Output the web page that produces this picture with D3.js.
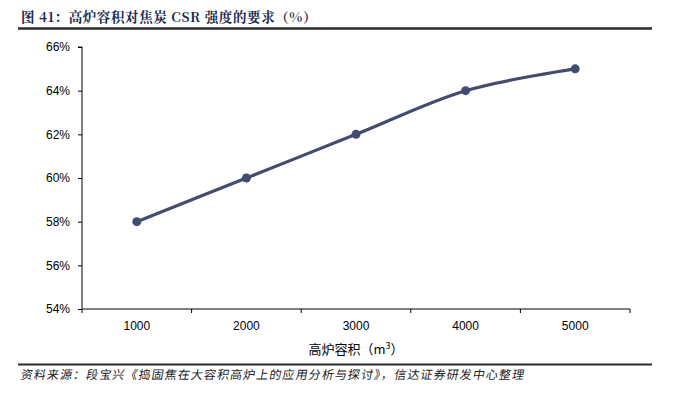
<html>
<head>
<script src="https://cdnjs.cloudflare.com/ajax/libs/d3/7.8.5/d3.min.js"></script>
<style>
  body { margin: 0; background: #fff; }
  .tick text { font-family: "Liberation Sans", Arial, sans-serif; font-size: 12px; fill: #000; }
</style>
</head>
<body>
<script>
var width = 683, height = 399;

var categories = ["1000", "2000", "3000", "4000", "5000"];
var csrValues = [58, 60, 62, 64, 65];
var yTicks = [54, 56, 58, 60, 62, 64, 66];

var titleText = "图 41：高炉容积对焦炭 CSR 强度的要求（%）";
var sourceText = "资料来源：段宝兴《捣固焦在大容积高炉上的应用分析与探讨》，信达证券研发中心整理";

var svg = d3.select("body").append("svg")
    .attr("width", width)
    .attr("height", height);

// title + rules
svg.append("text")
    .attr("x", 21)
    .attr("y", 22)
    .attr("font-family", "'Noto Serif CJK SC', 'Noto Sans CJK SC', serif")
    .attr("font-size", 13.5)
    .attr("font-weight", "bold")
    .attr("letter-spacing", 0.6)
    .attr("fill", "#1d2a4d")
    .text(titleText);

svg.append("line")
    .attr("x1", 18).attr("x2", 652)
    .attr("y1", 28.5).attr("y2", 28.5)
    .attr("stroke", "#2b2b2b").attr("stroke-width", 2.5);

svg.append("line")
    .attr("x1", 18).attr("x2", 652)
    .attr("y1", 364.5).attr("y2", 364.5)
    .attr("stroke", "#2b2b2b").attr("stroke-width", 2);

svg.append("text")
    .attr("x", 21)
    .attr("y", 379)
    .attr("font-family", "'Noto Sans CJK SC', serif")
    .attr("font-size", 12)
    .attr("letter-spacing", 1.1)
    .attr("fill", "#222")
    .attr("transform", "skewX(-10) translate(66,0)")
    .text(sourceText);

// plot
var x = d3.scaleBand()
    .domain(categories)
    .range([82, 630]);

var y = d3.scaleLinear()
    .domain([54, 66])
    .range([309, 47]);

var yAxis = svg.append("g")
    .attr("transform", "translate(82,0)")
    .call(d3.axisLeft(y)
        .tickValues(yTicks)
        .tickSize(4)
        .tickFormat(function(d) { return d + "%"; }));
yAxis.select(".domain").attr("stroke", "#000").attr("d", "M-4," + y(66) + "H0V" + y(54));
yAxis.selectAll(".tick line").attr("stroke", "#000");
yAxis.selectAll(".tick text").attr("x", -12);

var xAxis = svg.append("g")
    .attr("transform", "translate(0,309)")
    .call(d3.axisBottom(x).tickSize(0).tickPadding(12));
xAxis.select(".domain").attr("stroke", "#000").attr("d", "M82,0H630");
xAxis.selectAll(".tick text").attr("dy", "0.71em");

// boundary ticks between categories
var bounds = categories.map(function(c) { return x(c); }).concat([x.range()[1]]);
svg.append("g").selectAll("line")
    .data(bounds)
    .join("line")
    .attr("x1", function(d) { return d; })
    .attr("x2", function(d) { return d; })
    .attr("y1", 309).attr("y2", 313)
    .attr("stroke", "#000");

svg.append("text")
    .attr("x", 356)
    .attr("y", 354)
    .attr("text-anchor", "middle")
    .attr("font-family", "'Noto Sans CJK SC', sans-serif")
    .attr("font-size", 13)
    .attr("fill", "#000")
    .html('高炉容积（m<tspan dy="-5" font-size="9">3</tspan><tspan dy="5">）</tspan>');

var pts = categories.map(function(c, i) {
  return [x(c) + x.bandwidth() / 2, y(csrValues[i])];
});

svg.append("path")
    .datum(pts)
    .attr("fill", "none")
    .attr("stroke", "#434c70")
    .attr("stroke-width", 3.2)
    .attr("d", d3.line().curve(d3.curveCatmullRom.alpha(0.5)));

svg.append("g").selectAll("circle")
    .data(pts)
    .join("circle")
    .attr("cx", function(d) { return d[0]; })
    .attr("cy", function(d) { return d[1]; })
    .attr("r", 4.5)
    .attr("fill", "#434c70");
</script>
</body>
</html>
